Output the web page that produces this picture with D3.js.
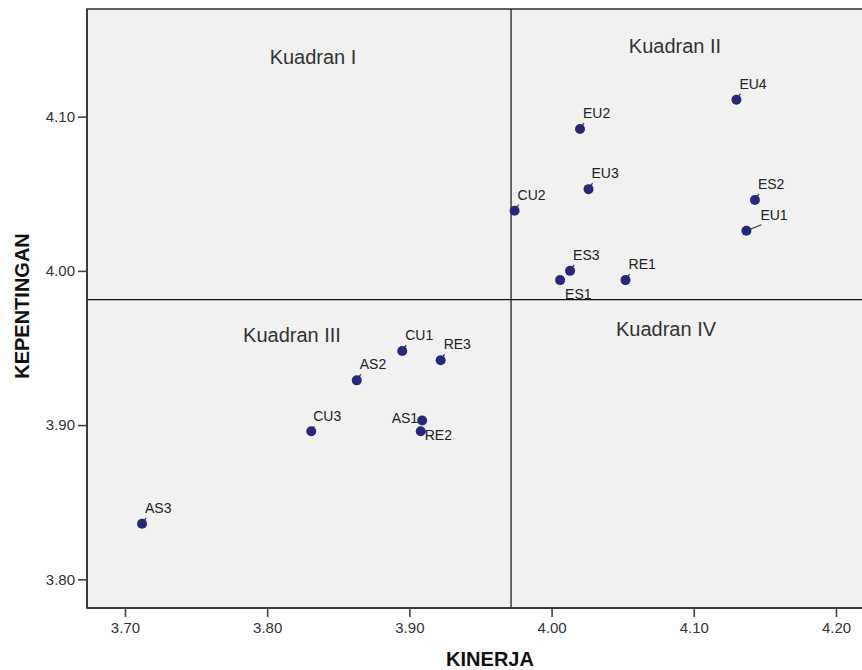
<!DOCTYPE html>
<html>
<head>
<meta charset="utf-8">
<script src="https://cdn.jsdelivr.net/npm/d3@7"></script>
<style>
  body { margin: 0; background: #fff; }
  svg { display: block; font-family: Arial, "Liberation Sans", sans-serif; }
</style>
</head>
<body>
<svg id="chart" width="862" height="670"></svg>
<script>
// data
var codes = ['AS1','AS2','AS3','CU1','CU2','CU3','ES1','ES2','ES3','EU1','EU2','EU3','EU4','RE1','RE2','RE3'];
var kinerja = [3.909, 3.863, 3.712, 3.895, 3.974, 3.831, 4.006, 4.143, 4.013, 4.137, 4.020, 4.026, 4.130, 4.052, 3.908, 3.922];
var kepentingan = [3.903, 3.929, 3.836, 3.948, 4.039, 3.896, 3.994, 4.046, 4.000, 4.026, 4.092, 4.053, 4.111, 3.994, 3.896, 3.942];
var xTicks = [3.70, 3.80, 3.90, 4.00, 4.10, 4.20];
var yTicks = [3.80, 3.90, 4.00, 4.10];
var meanKinerja = 3.9715;
var meanKepentingan = 3.9814;
var quadrants = ['Kuadran I', 'Kuadran II', 'Kuadran III', 'Kuadran IV'];

// label placement (dx, dy from point, anchor)
var labelPos = {
  AS1: [-4, 3, 'end'], RE2: [4, 9, 'start'], ES1: [5, 19, 'start'],
  EU1: [14, -11, 'start'], CU3: [2, -10, 'start']
};
var quadPos = [[313, 64], [675, 53], [292, 342], [666, 336]];

var svg = d3.select('#chart');
var pLeft = 87, pRight = 862, pTop = 9, pBottom = 608;

var x = d3.scaleLinear().domain([3.6733, 4.2183]).range([pLeft, pRight]);
var y = d3.scaleLinear().domain([3.7814, 4.1698]).range([pBottom, pTop]);

// plot background
svg.append('rect').attr('x', pLeft).attr('y', pTop).attr('width', pRight - pLeft + 5).attr('height', pBottom - pTop)
  .attr('fill', '#f0f1f0').attr('stroke', '#3a3a3a').attr('stroke-width', 1.6);

// quadrant lines
svg.append('line').attr('x1', x(meanKinerja)).attr('x2', x(meanKinerja)).attr('y1', pTop).attr('y2', pBottom)
  .attr('stroke', '#111').attr('stroke-width', 1.2);
svg.append('line').attr('x1', pLeft).attr('x2', pRight).attr('y1', y(meanKepentingan)).attr('y2', y(meanKepentingan))
  .attr('stroke', '#111').attr('stroke-width', 1.2);

// quadrant titles
svg.selectAll('.quad').data(quadrants).enter().append('text')
  .attr('x', function(d, i){ return quadPos[i][0]; })
  .attr('y', function(d, i){ return quadPos[i][1]; })
  .attr('text-anchor', 'middle').attr('font-size', 20).attr('fill', '#333')
  .text(function(d){ return d; });

// axes
var xAxis = svg.append('g').attr('transform', 'translate(0,' + pBottom + ')')
  .call(d3.axisBottom(x).tickValues(xTicks).tickFormat(d3.format('.2f')).tickSize(9).tickPadding(5));
var yAxis = svg.append('g').attr('transform', 'translate(' + pLeft + ',0)')
  .call(d3.axisLeft(y).tickValues(yTicks).tickFormat(d3.format('.2f')).tickSize(9).tickPadding(3));
[xAxis, yAxis].forEach(function(a){
  a.select('.domain').remove();
  a.attr('font-size', 15).attr('font-family', 'Arial, "Liberation Sans", sans-serif');
  a.selectAll('.tick line').attr('stroke', '#444').attr('stroke-width', 1.6);
  a.selectAll('.tick text').attr('fill', '#333');
});
svg.append('line').attr('x1', pLeft).attr('x2', pRight).attr('y1', pBottom).attr('y2', pBottom)
  .attr('stroke', '#3a3a3a').attr('stroke-width', 2);
svg.append('line').attr('x1', pLeft).attr('x2', pLeft).attr('y1', pTop).attr('y2', pBottom)
  .attr('stroke', '#3a3a3a').attr('stroke-width', 2);

// axis titles
svg.append('text').attr('x', 490).attr('y', 666).attr('text-anchor', 'middle')
  .attr('font-size', 20).attr('font-weight', 'bold').attr('fill', '#111').text('KINERJA');
svg.append('text').attr('transform', 'translate(29,' + 306 + ') rotate(-90)').attr('text-anchor', 'middle')
  .attr('font-size', 20).attr('font-weight', 'bold').attr('fill', '#111').text('KEPENTINGAN');

// points
var pts = codes.map(function(c, i){ return { code: c, kx: kinerja[i], ky: kepentingan[i] }; });
function lp(d){ return labelPos[d.code] || [3, -11, 'start']; }

var g = svg.append('g');
g.selectAll('.leader').data(pts.filter(function(d){ var p = lp(d); return p[2] == 'start' && p[1] < 0; })).enter().append('line')
  .attr('x1', function(d){ return x(d.kx); }).attr('y1', function(d){ return y(d.ky); })
  .attr('x2', function(d){ return x(d.kx) + lp(d)[0] + 1; })
  .attr('y2', function(d){ return y(d.ky) + lp(d)[1] + 5; })
  .attr('stroke', '#333').attr('stroke-width', 1.2);
g.selectAll('circle').data(pts).enter().append('circle')
  .attr('cx', function(d){ return x(d.kx); }).attr('cy', function(d){ return y(d.ky); })
  .attr('r', 5).attr('fill', '#28287a');
g.selectAll('.lbl').data(pts).enter().append('text')
  .attr('x', function(d){ return x(d.kx) + lp(d)[0]; })
  .attr('y', function(d){ return y(d.ky) + lp(d)[1]; })
  .attr('text-anchor', function(d){ return lp(d)[2]; })
  .attr('font-size', 14).attr('fill', '#222')
  .text(function(d){ return d.code; });
</script>
</body>
</html>
